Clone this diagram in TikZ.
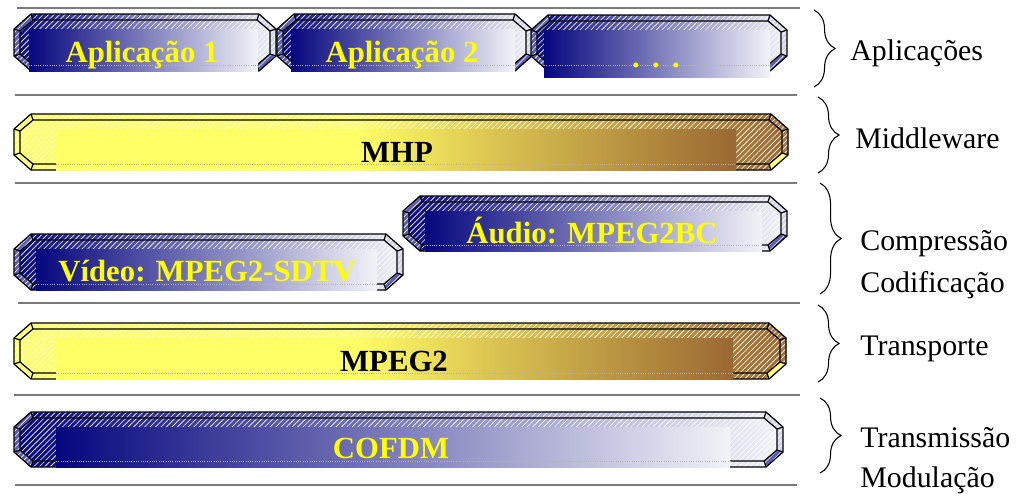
\documentclass[tikz,border=0pt]{standalone}
\usepackage{fontspec}
\setmainfont{Liberation Serif}
\usetikzlibrary{positioning,decorations.pathreplacing,patterns.meta}

\definecolor{navy}{HTML}{06067E}
\definecolor{paleblue}{HTML}{F2F2F8}
\definecolor{bevelblue}{HTML}{5C5CB0}
\definecolor{bevellight}{HTML}{D6D6EA}
\definecolor{lemon}{HTML}{FFFF66}
\definecolor{gold}{HTML}{DCC552}
\definecolor{bronze}{HTML}{9A6832}
\definecolor{lettering}{HTML}{FFFF00}
\definecolor{rule}{HTML}{7A7A7A}

% tikz fits the 25bp--75bp band of a shading to the path
\pgfdeclarehorizontalshading{navypale}{100bp}{color(0bp)=(navy); color(25bp)=(navy); color(75bp)=(paleblue); color(100bp)=(paleblue)}
\pgfdeclarehorizontalshading{lemonbronze}{100bp}{color(0bp)=(lemon); color(47bp)=(lemon); color(57bp)=(gold); color(75bp)=(bronze); color(100bp)=(bronze)}

\tikzset{
  blue shade/.style={shading=navypale},
  blue left/.style={fill=bevelblue},
  blue right/.style={fill=bevellight},
  blue low/.style={fill=bevelblue},
  gold shade/.style={shading=lemonbronze},
  gold left/.style={fill=lemon},
  gold right/.style={fill=bronze!90},
  gold low/.style={fill=lemon},
  hatch/.style={pattern={Lines[angle=45,distance=2.2pt,line width=0.35pt]},pattern color=white,fill opacity=0.2},
  rim/.style={draw=black,line width=0.7pt,line join=round},
  seam/.style={densely dotted,draw=gray!60,line width=0.3pt},
  sepline/.style={draw=rule,line width=0.9pt},
  layerbrace/.style={decorate,decoration={brace,amplitude=12pt},line width=0.6pt},
  bluetext/.style={text=lettering,font=\bfseries\fontsize{17.5}{20}\selectfont,anchor=base,inner sep=0pt},
  goldtext/.style={text=black,font=\bfseries\fontsize{17.5}{20}\selectfont,anchor=base,inner sep=0pt},
  sidetext/.style={text=black,font=\fontsize{17}{20}\selectfont,anchor=base west,inner sep=0pt}
}

% #1 name, #2/#3 left/right, #4/#5 top/bottom, #6/#7 inner box left/right, #8 inner box bottom, #9 scheme
\newcommand{\layerbar}[9]{%
  \coordinate (#1-o1) at (#2,#4+15);
  \coordinate (#1-o2) at (#2+17,#4);
  \coordinate (#1-o3) at (#3-17,#4);
  \coordinate (#1-o4) at (#3,#4+15);
  \coordinate (#1-o5) at (#3,#5-15);
  \coordinate (#1-o6) at (#3-17,#5);
  \coordinate (#1-o7) at (#2+17,#5);
  \coordinate (#1-o8) at (#2,#5-15);
  \coordinate (#1-i1) at (#2+6,#4+17);
  \coordinate (#1-i2) at (#2+19,#4+6);
  \coordinate (#1-i3) at (#3-19,#4+6);
  \coordinate (#1-i4) at (#3-6,#4+17);
  \coordinate (#1-i5) at (#3-6,#5-17);
  \coordinate (#1-i6) at (#3-19,#5-6);
  \coordinate (#1-i7) at (#2+19,#5-6);
  \coordinate (#1-i8) at (#2+6,#5-17);
  \shade[#9 shade] (#1-o1) -- (#1-o2) -- (#1-o3) -- (#1-o4) -- (#1-o5) -- (#1-o6) -- (#1-o7) -- (#1-o8) -- cycle;
  \fill[#9 left] (#1-o7) -- (#1-o8) -- (#1-o1) -- (#1-o2) -- (#1-i2) -- (#1-i1) -- (#1-i8) -- (#1-i7) -- cycle;
  \fill[#9 right] (#1-o3) -- (#1-o4) -- (#1-o5) -- (#1-i5) -- (#1-i4) -- (#1-i3) -- cycle;
  \fill[#9 low] (#1-o5) -- (#1-o6) -- (#1-i6) -- (#1-i5) -- cycle;
  \fill[hatch] (#1-o1) -- (#1-o2) -- (#1-o3) -- (#1-o4) -- (#1-o5) -- (#1-o6) -- (#1-o7) -- (#1-o8) -- cycle;
  \draw[rim] (#1-o1) -- (#1-o2) -- (#1-o3) -- (#1-o4) -- (#1-o5) -- (#1-o6) -- (#1-o7) -- (#1-o8) -- cycle;
  \draw[rim] (#1-i1) -- (#1-i2) -- (#1-i3) -- (#1-i4) -- (#1-i5) -- (#1-i6) -- (#1-i7) -- (#1-i8) -- cycle;
  \foreach \k in {1,...,8} \draw[rim] (#1-o\k) -- (#1-i\k);
  \shade[#9 shade] (#6,#4+15) rectangle (#7,#8);
  \draw[seam] (#6,#5-6) -- (#7,#5-6);
}

\begin{document}
\begin{tikzpicture}[x=0.02cm,y=-0.02cm]
  \useasboundingbox (0,0) rectangle (1023,495);

  % separators
  \foreach \ya/\xa/\xb in {8/17/800, 95/15/797, 183/15/797, 303/18/800, 395/14/800, 485/15/797}
    \draw[sepline] (\xa,\ya) -- (\xb,\ya);

  % aplicacoes
  \layerbar{app1}{14}{276}{14}{71}{29}{258}{71}{blue}
  \layerbar{app2}{277}{532}{14}{71}{291}{515}{71}{blue}
  \layerbar{app3}{531}{787}{15}{71}{544}{770}{77}{blue}
  \node[bluetext] (app1-text) at (142,62) {Aplicação 1};
  \node[bluetext] (app2-text) at (402,62) {Aplicação 2};
  \node[bluetext] (app3-text) at (656,67) {.\hspace{0.4em}.\hspace{0.4em}.};

  % middleware
  \layerbar{mhp}{14}{788}{114}{170}{56}{736}{170}{gold}
  \node[goldtext] (mhp-text) at (397,162) {MHP};

  % compressao
  \layerbar{audio}{403}{787}{196}{251}{425}{762}{251}{blue}
  \layerbar{video}{14}{403}{234}{290}{36}{377}{290}{blue}
  \node[bluetext] (audio-text) at (592,243) {Áudio: MPEG2BC};
  \node[bluetext] (video-text) at (207,281) {Vídeo: MPEG2-SDTV};

  % transporte
  \layerbar{mpeg}{14}{786}{323}{379}{56}{733}{379}{gold}
  \node[goldtext] (mpeg-text) at (394,371) {MPEG2};

  % transmissao
  \layerbar{cofdm}{14}{783}{412}{467}{56}{730}{467}{blue}
  \node[bluetext] (cofdm-text) at (391,458) {COFDM};

  % braces and layer names
  \coordinate (app-top) at (814,10);
  \coordinate (app-bot) at (814,87);
  \coordinate (mw-top) at (818,97);
  \coordinate (mw-bot) at (818,173);
  \coordinate (cmp-top) at (820,183);
  \coordinate (cmp-bot) at (820,294);
  \coordinate (tr-top) at (818,305);
  \coordinate (tr-bot) at (818,382);
  \coordinate (tx-top) at (820,398);
  \coordinate (tx-bot) at (820,473);
  \draw[layerbrace] (app-top) -- (app-bot);
  \draw[layerbrace] (mw-top) -- (mw-bot);
  \draw[layerbrace] (cmp-top) -- (cmp-bot);
  \draw[layerbrace] (tr-top) -- (tr-bot);
  \draw[layerbrace] (tx-top) -- (tx-bot);

  \node[sidetext] (app-name) at (850,60) {Aplicações};
  \node[sidetext] (mw-name) at (855,148) {Middleware};
  \node[sidetext] (cmp-name) at (860,250) {Compressão};
  \node[sidetext] (cod-name) at (860,292) {Codificação};
  \node[sidetext] (tr-name) at (860,355) {Transporte};
  \node[sidetext] (tx-name) at (860,447) {Transmissão};
  \node[sidetext] (mod-name) at (860,487) {Modulação};
\end{tikzpicture}
\end{document}
